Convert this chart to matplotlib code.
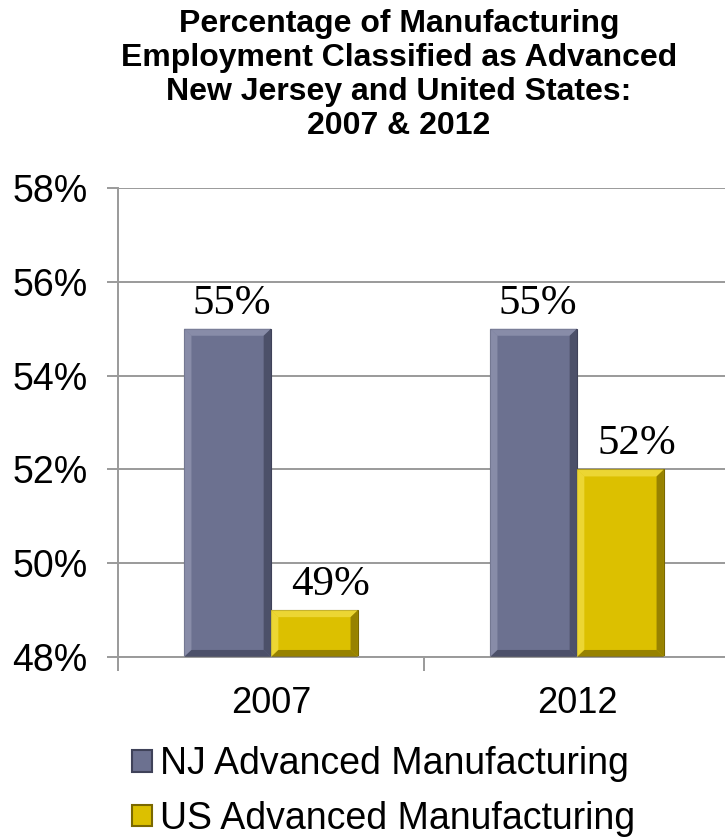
import matplotlib
matplotlib.use("Agg")
import matplotlib.pyplot as plt
from matplotlib.patches import Patch, Polygon
from matplotlib.ticker import FixedLocator, FuncFormatter

# data
years = ["2007", "2012"]
nj_values = [55, 55]
us_values = [49, 52]
series_names = ["NJ Advanced Manufacturing", "US Advanced Manufacturing"]
y_ticks = [48, 50, 52, 54, 56, 58]
title_text = ("Percentage of Manufacturing\nEmployment Classified as Advanced\n"
              "New Jersey and United States:\n2007 & 2012")

# style
NJ_FACE, NJ_LIGHT, NJ_DARK = "#6c7190", "#9498b3", "#3f4259"
US_FACE, US_LIGHT, US_DARK = "#dcc000", "#f3e04a", "#7a6800"
GRID = "#9a9a9a"
SANS = ["Liberation Sans", "DejaVu Sans"]
SERIF = ["Liberation Serif", "DejaVu Serif"]
BAR_W = 0.284
Y_MIN = 48

plt.rcParams["font.family"] = SANS

fig = plt.figure(figsize=(7.25, 8.4), dpi=100)
ax = fig.add_axes([118 / 725, 183 / 840, 612 / 725, 469 / 840])

x = list(range(len(years)))


def bevel(ax, bars, light, dark, dx=0.024, dy=0.15):
    # fake the bevelled Excel look: lighter top/left edges, darker right/bottom
    for b in bars:
        x0, x1 = b.get_x(), b.get_x() + b.get_width()
        y0, y1 = b.get_y(), b.get_y() + b.get_height()
        sides = [
            ([(x0, y1), (x1, y1), (x1 - dx, y1 - dy), (x0 + dx, y1 - dy)], light),
            ([(x0, y0), (x0, y1), (x0 + dx, y1 - dy), (x0 + dx, y0 + dy)], light),
            ([(x1, y0), (x1, y1), (x1 - dx, y1 - dy), (x1 - dx, y0 + dy)], dark),
            ([(x0, y0), (x1, y0), (x1 - dx, y0 + dy), (x0 + dx, y0 + dy)], dark),
        ]
        for pts, col in sides:
            ax.add_patch(Polygon(pts, closed=True, facecolor=col, edgecolor="none",
                                 alpha=0.7, zorder=3))


nj_bars = ax.bar([i - BAR_W / 2 for i in x], [v - Y_MIN for v in nj_values],
                 bottom=Y_MIN, width=BAR_W, color=NJ_FACE, edgecolor=NJ_DARK,
                 linewidth=0.8, zorder=2)
us_bars = ax.bar([i + BAR_W / 2 for i in x], [v - Y_MIN for v in us_values],
                 bottom=Y_MIN, width=BAR_W, color=US_FACE, edgecolor=US_DARK,
                 linewidth=0.8, zorder=2)
bevel(ax, nj_bars, NJ_LIGHT, NJ_DARK)
bevel(ax, us_bars, US_LIGHT, US_DARK)

# value labels
for bars, vals, shift in [(nj_bars, nj_values, 4), (us_bars, us_values, 16)]:
    for b, v in zip(bars, vals):
        ax.annotate(f"{v}%", (b.get_x() + b.get_width() / 2, v),
                    xytext=(shift, 6), textcoords="offset pixels",
                    ha="center", va="bottom", fontsize=31, family=SERIF, zorder=5)

ax.set_xlim(-0.5, len(years) - 0.5)
ax.set_ylim(Y_MIN, y_ticks[-1])

ax.yaxis.set_major_locator(FixedLocator(y_ticks))
ax.yaxis.set_major_formatter(FuncFormatter(lambda v, _: f"{v:.0f}%"))
ax.grid(axis="y", color=GRID, linewidth=1.4, zorder=0)
ax.set_axisbelow(True)

ax.set_xticks(x)
ax.set_xticklabels(years)
ax.set_xticks([-0.5, 0.5, len(years) - 0.5], minor=True)
ax.tick_params(axis="x", which="major", length=0, pad=21, labelsize=26)
ax.tick_params(axis="x", which="minor", length=10, width=1.4, color=GRID)
ax.tick_params(axis="y", length=8, width=1.4, color=GRID, pad=14, labelsize=27)

for side in ["top", "right"]:
    ax.spines[side].set_visible(False)
for side in ["left", "bottom"]:
    ax.spines[side].set_color(GRID)
    ax.spines[side].set_linewidth(1.4)

fig.text(399 / 725, 1 - 9 / 840, title_text, ha="center", va="top",
         fontsize=23, fontweight="bold", linespacing=1.17)

handles = [Patch(facecolor=NJ_FACE, edgecolor=NJ_DARK, linewidth=1.5),
           Patch(facecolor=US_FACE, edgecolor=US_DARK, linewidth=1.5)]
fig.legend(handles, series_names, loc="upper left",
           bbox_to_anchor=(132 / 725, 1 - 746 / 840), frameon=False,
           fontsize=27, handlelength=0.52, handleheight=0.52,
           handletextpad=0.22, labelspacing=0.5, borderpad=0, borderaxespad=0)

fig.savefig("out.png", dpi=100)
